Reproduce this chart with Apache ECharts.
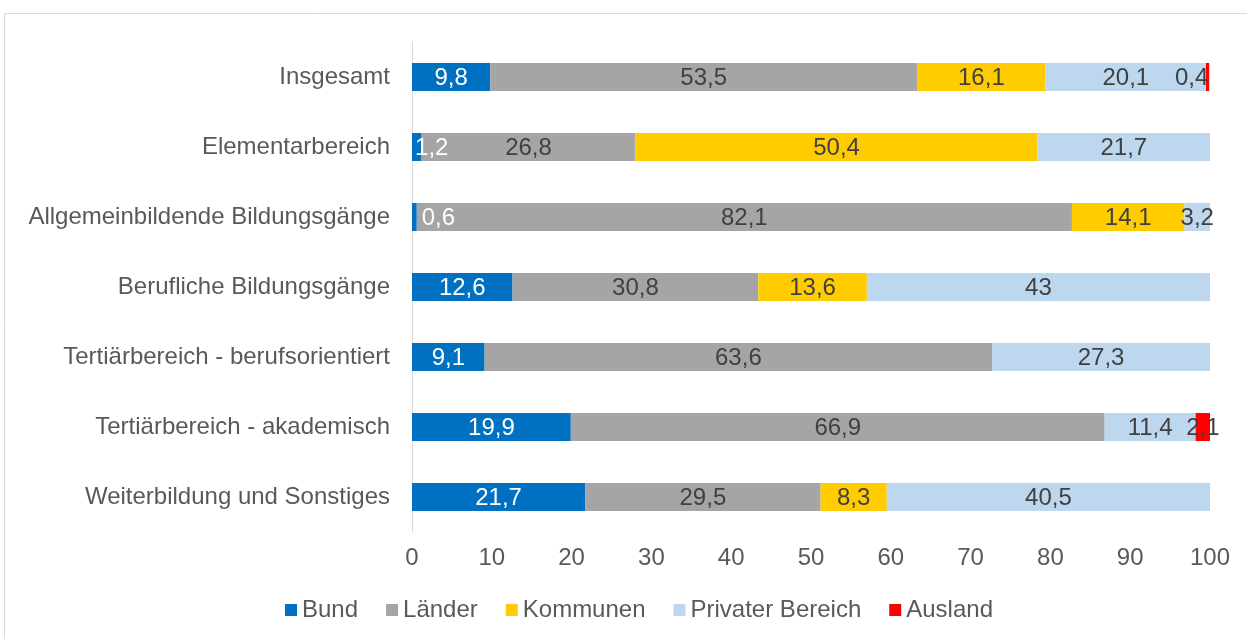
<!DOCTYPE html>
<html>
<head>
<meta charset="utf-8">
<script src="https://cdn.jsdelivr.net/npm/echarts@6/dist/echarts.min.js"></script>
<style>
  html, body { margin: 0; padding: 0; background: #fff; }
  #chart { width: 1247px; height: 639px; }
</style>
</head>
<body>
<div id="chart"></div>
<script>
// Finanzierung nach Bildungsbereichen, Anteile in %
const categories = [
  'Insgesamt',
  'Elementarbereich',
  'Allgemeinbildende Bildungsgänge',
  'Berufliche Bildungsgänge',
  'Tertiärbereich - berufsorientiert',
  'Tertiärbereich - akademisch',
  'Weiterbildung und Sonstiges'
];
const bund     = [9.8, 1.2, 0.6, 12.6, 9.1, 19.9, 21.7];
const laender  = [53.5, 26.8, 82.1, 30.8, 63.6, 66.9, 29.5];
const kommunen = [16.1, 50.4, 14.1, 13.6, null, null, 8.3];
const privat   = [20.1, 21.7, 3.2, 43, 27.3, 11.4, 40.5];
const ausland  = [0.4, null, null, null, null, 2.1, null];
const xTicks = [0, 10, 20, 30, 40, 50, 60, 70, 80, 90, 100];

const FONT = 'Liberation Sans, Arial, sans-serif';
const FS = 24;
const fmt = v => String(v).replace('.', ',');

function makeSeries(name, values, color, labelColor, offsets) {
  return {
    name: name,
    type: 'bar',
    stack: 'total',
    barWidth: 28,
    itemStyle: { color: color },
    data: values.map((v, i) => {
      const item = { value: v };
      if (offsets && offsets[i]) {
        item.label = { offset: offsets[i] };
      }
      return item;
    }),
    label: {
      show: true,
      position: 'inside',
      color: labelColor,
      fontFamily: FONT,
      fontSize: FS,
      offset: [0, 1],
      formatter: p => (p.value == null ? '' : fmt(p.value))
    }
  };
}

const chart = echarts.init(document.getElementById('chart'), null, { renderer: 'canvas' });
chart.setOption({
  animation: false,
  backgroundColor: '#ffffff',
  graphic: [{
    type: 'rect',
    shape: { x: 4.5, y: 13.5, width: 1300, height: 700 },
    style: { fill: 'none', stroke: '#d9d9d9', lineWidth: 1 },
    silent: true,
    z: -10
  }],
  grid: { left: 412, right: 37, top: 42, bottom: 107, containLabel: false },
  xAxis: {
    type: 'value',
    min: 0,
    max: 100,
    interval: 10,
    axisLine: { show: false },
    axisTick: { show: false },
    splitLine: { show: false },
    axisLabel: {
      color: '#595959',
      fontFamily: FONT,
      fontSize: FS,
      margin: 14,
      formatter: v => (xTicks.indexOf(v) >= 0 ? String(v) : '')
    }
  },
  yAxis: {
    type: 'category',
    data: categories,
    inverse: true,
    axisLine: { show: true, lineStyle: { color: '#d9d9d9', width: 1 } },
    axisTick: { show: false },
    axisLabel: {
      color: '#595959',
      fontFamily: FONT,
      fontSize: FS,
      margin: 22,
      padding: [2, 0, 0, 0]
    }
  },
  legend: {
    bottom: 12,
    left: 280,
    itemWidth: 12,
    itemHeight: 12,
    itemGap: 28,
    icon: 'rect',
    textStyle: { color: '#595959', fontFamily: FONT, fontSize: FS },
    data: ['Bund', 'Länder', 'Kommunen', 'Privater Bereich', 'Ausland']
  },
  series: [
    makeSeries('Bund', bund, '#0070c0', '#ffffff', [null, [15, 1], [24, 1]]),
    makeSeries('Länder', laender, '#a5a5a5', '#404040'),
    makeSeries('Kommunen', kommunen, '#ffcc00', '#404040'),
    makeSeries('Privater Bereich', privat, '#bdd7ee', '#404040'),
    makeSeries('Ausland', ausland, '#ff0000', '#404040', [[-16, 1]])
  ]
});
</script>
</body>
</html>
